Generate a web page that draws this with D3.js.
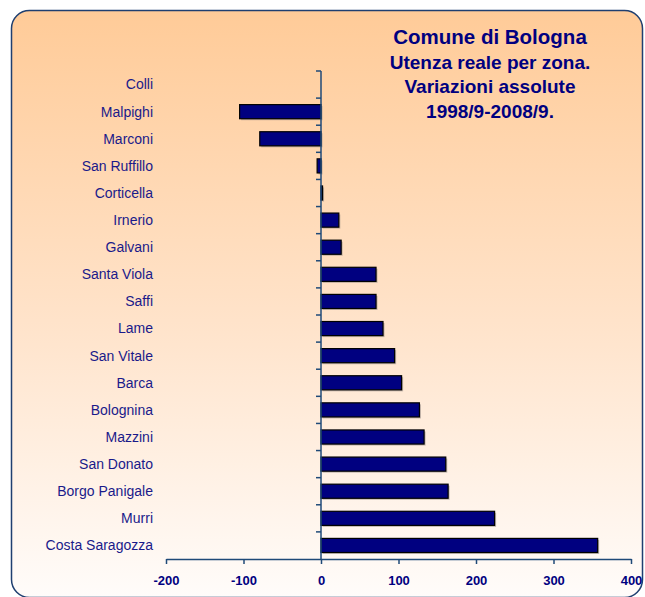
<!DOCTYPE html>
<html>
<head>
<meta charset="utf-8">
<script src="https://cdn.jsdelivr.net/npm/d3@7"></script>
<style>
  html, body { margin: 0; padding: 0; background: #ffffff; }
  svg { display: block; font-family: "Liberation Sans", Arial, sans-serif; }
</style>
</head>
<body>
<svg id="chart" width="645" height="597"></svg>
<script>
// Zones, top to bottom
const zones = [
  "Colli", "Malpighi", "Marconi", "San Ruffillo", "Corticella", "Irnerio",
  "Galvani", "Santa Viola", "Saffi", "Lame", "San Vitale", "Barca",
  "Bolognina", "Mazzini", "San Donato", "Borgo Panigale", "Murri", "Costa Saragozza"
];
// Absolute change in users, 1998/9 - 2008/9
const variations = [
  0, -105, -79, -5, 2, 23,
  26, 71, 71, 80, 95, 104,
  127, 133, 161, 164, 224, 357
];
const xTicks = [-200, -100, 0, 100, 200, 300, 400];
const titleLines = [
  "Comune di Bologna",
  "Utenza reale per zona.",
  "Variazioni assolute",
  "1998/9-2008/9."
];

const svg = d3.select("#chart");
const navy = "#000080";
const axisColor = "#1f4a78";

// background panel with vertical gradient
const defs = svg.append("defs");
const grad = defs.append("linearGradient").attr("id", "bg")
  .attr("x1", 0).attr("y1", 0).attr("x2", 0).attr("y2", 1);
grad.append("stop").attr("offset", "0%").attr("stop-color", "#ffcb98");
grad.append("stop").attr("offset", "55%").attr("stop-color", "#ffe4cc");
grad.append("stop").attr("offset", "100%").attr("stop-color", "#fffcfa");

svg.append("rect")
  .attr("x", 11.5).attr("y", 10.5).attr("width", 631).attr("height", 587)
  .attr("rx", 18).attr("ry", 18)
  .attr("fill", "url(#bg)")
  .attr("stroke", "#1f3f70").attr("stroke-width", 1.5);

const x = d3.scaleLinear().domain([-200, 400]).range([166, 631]);
const y = d3.scaleBand().domain(zones).range([71, 559]).paddingInner(0.48).paddingOuter(0.24);

// bars: soft shadow then filled bar
const bars = svg.append("g");
bars.selectAll("rect.shadow").data(zones).join("rect")
  .attr("class", "shadow")
  .attr("x", (d, i) => Math.min(x(0), x(variations[i])) + 1.5)
  .attr("y", d => y(d) + 1.5)
  .attr("width", (d, i) => Math.abs(x(variations[i]) - x(0)))
  .attr("height", y.bandwidth())
  .attr("fill", "#9a8f88").attr("opacity", 0.6);
bars.selectAll("rect.bar").data(zones).join("rect")
  .attr("class", "bar")
  .attr("x", (d, i) => Math.min(x(0), x(variations[i])))
  .attr("y", d => y(d))
  .attr("width", (d, i) => Math.abs(x(variations[i]) - x(0)))
  .attr("height", y.bandwidth())
  .attr("fill", navy).attr("stroke", "#000").attr("stroke-width", 1.2);

// bottom value axis
const xAxis = svg.append("g").attr("transform", "translate(0,559)")
  .call(d3.axisBottom(x).tickValues(xTicks).tickFormat(d => String(d))
    .tickSize(5).tickSizeOuter(0).tickPadding(12));
xAxis.select(".domain").attr("stroke", axisColor).attr("stroke-width", 1.5);
xAxis.selectAll(".tick line").attr("stroke", axisColor).attr("stroke-width", 1.5);
xAxis.selectAll(".tick text")
  .attr("fill", navy).attr("font-size", 13).attr("font-weight", "bold")
  .attr("font-family", "Liberation Sans, Arial, sans-serif");

// vertical category axis at zero, ticks at band boundaries
const yAxisG = svg.append("g");
yAxisG.append("line")
  .attr("x1", x(0)).attr("x2", x(0)).attr("y1", 71).attr("y2", 559)
  .attr("stroke", axisColor).attr("stroke-width", 1.5);
const step = y.step();
const boundaries = d3.range(zones.length).map(i => y(zones[i]) - step * y.paddingInner() / 2);
yAxisG.selectAll("line.tk").data(boundaries).join("line")
  .attr("class", "tk")
  .attr("x1", x(0) - 5).attr("x2", x(0))
  .attr("y1", d => d).attr("y2", d => d)
  .attr("stroke", axisColor).attr("stroke-width", 1.5);

// category labels
svg.append("g").selectAll("text").data(zones).join("text")
  .attr("x", 153)
  .attr("y", d => y(d) + y.bandwidth() / 2)
  .attr("dy", "0.35em")
  .attr("text-anchor", "end")
  .attr("fill", "#1a1a8a")
  .attr("font-size", 14)
  .text(d => d);

// title block
svg.append("g").selectAll("text").data(titleLines).join("text")
  .attr("x", 490)
  .attr("y", (d, i) => [43.5, 68.5, 93, 117.5][i])
  .attr("text-anchor", "middle")
  .attr("fill", navy)
  .attr("font-weight", "bold")
  .attr("font-size", (d, i) => i === 0 ? 20.5 : 19)
  .text(d => d);
</script>
</body>
</html>
